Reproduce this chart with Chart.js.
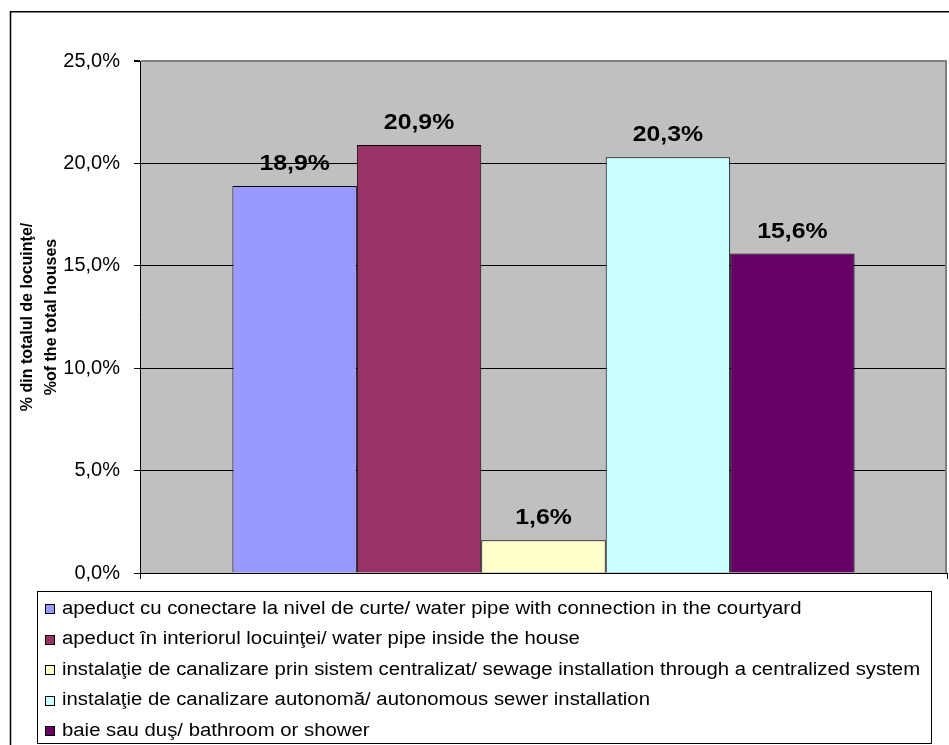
<!DOCTYPE html>
<html>
<head>
<meta charset="utf-8">
<script src="https://cdn.jsdelivr.net/npm/chart.js@4.4.1/dist/chart.umd.min.js"></script>
<style>
  body { margin: 0; background: #fff; overflow: hidden; }
  #wrap { position: relative; width: 949px; height: 745px; }
</style>
</head>
<body>
<div id="wrap"><canvas id="dotareChart" width="949" height="745"></canvas></div>
<script>
// date: ponderea locuinţelor dotate, % din total
var categories = [""];
var seriesLabels = [
  "apeduct cu conectare la nivel de curte/ water pipe with connection in the courtyard",
  "apeduct în interiorul locuinţei/ water pipe inside the house",
  "instalaţie de canalizare prin sistem centralizat/ sewage installation through a centralized system",
  "instalaţie de canalizare autonomă/ autonomous sewer installation",
  "baie sau duş/ bathroom or shower"
];
var seriesValues = [18.9, 20.9, 1.6, 20.3, 15.6];
var seriesColors = ["#9999FF", "#993366", "#FFFFCC", "#CCFFFF", "#660066"];
var tickValues = [0, 5, 10, 15, 20, 25];
var axisTitle = ["% din totalul de locuinţe/", "%of the total houses"];

var FONT = "'Liberation Sans', Arial, sans-serif";
var STRETCH = 1.13; // textul e usor latit pe orizontala

function fmtPct(v) {
  return v.toFixed(1).replace(".", ",") + "%";
}

// scrie text latit pe orizontala, ancorat in (x, y)
function wideText(c, text, x, y, align) {
  var w = c.measureText(text).width * STRETCH;
  var x0 = align === "center" ? x - w / 2 : x;
  c.save();
  c.textAlign = "left";
  c.translate(x0, y);
  c.scale(STRETCH, 1);
  c.fillText(text, 0, 0);
  c.restore();
}

var datasets = seriesLabels.map(function (label, i) {
  return {
    label: label,
    data: [seriesValues[i]],
    backgroundColor: seriesColors[i],
    borderColor: "#000",
    borderWidth: 1,
    categoryPercentage: 0.771,
    barPercentage: 1
  };
});

// fundal, chenar exterior si chenarul zonei de grafic
var framePlugin = {
  id: "frame",
  beforeDraw: function (chart) {
    var c = chart.ctx, a = chart.chartArea;
    c.save();
    c.fillStyle = "#fff";
    c.fillRect(0, 0, chart.width, chart.height);
    c.fillStyle = "#C0C0C0";
    c.fillRect(a.left, a.top, a.right - a.left, a.bottom - a.top);
    c.strokeStyle = "#000";
    c.lineWidth = 1.5;
    c.beginPath();
    c.moveTo(10.5, chart.height);
    c.lineTo(10.5, 11.75);
    c.lineTo(chart.width, 11.75);
    c.stroke();
    c.restore();
  },
  afterDraw: function (chart) {
    var c = chart.ctx, a = chart.chartArea;
    c.save();
    c.strokeStyle = "#808080";
    c.lineWidth = 2;
    c.beginPath();
    c.moveTo(a.right - 1, a.top);
    c.lineTo(a.right - 1, a.bottom);
    c.stroke();
    c.restore();
  }
};

// etichete cu valoarea deasupra fiecarei coloane
var barLabelPlugin = {
  id: "barLabels",
  afterDatasetsDraw: function (chart) {
    var c = chart.ctx;
    c.save();
    c.font = "bold 22px " + FONT;
    c.fillStyle = "#000";
    c.textBaseline = "alphabetic";
    chart.data.datasets.forEach(function (ds, i) {
      var bar = chart.getDatasetMeta(i).data[0];
      wideText(c, fmtPct(ds.data[0]), bar.x, bar.y - 16, "center");
    });
    c.restore();
  }
};

// legenda in caseta, cate un element pe rand
var boxLegendPlugin = {
  id: "boxLegend",
  afterDraw: function (chart) {
    var c = chart.ctx;
    var x = 37, y = 591, w = 894, h = 152, row = 30.5;
    c.save();
    c.fillStyle = "#fff";
    c.fillRect(x, y, w, h);
    c.strokeStyle = "#000";
    c.lineWidth = 1;
    c.strokeRect(x + 0.5, y + 0.5, w, h);
    c.font = "18px " + FONT;
    c.textBaseline = "middle";
    chart.data.datasets.forEach(function (ds, i) {
      var cy = y + 18 + i * row;
      c.fillStyle = ds.backgroundColor;
      c.fillRect(45, Math.round(cy) - 5, 10, 10);
      c.strokeStyle = "#000";
      c.strokeRect(45.5, Math.round(cy) - 4.5, 9, 9);
      c.fillStyle = "#000";
      wideText(c, ds.label, 62, cy, "left");
    });
    c.restore();
  }
};

var ctx = document.getElementById("dotareChart").getContext("2d");
var chart = new Chart(ctx, {
  type: "bar",
  data: {
    labels: categories,
    datasets: datasets
  },
  options: {
    responsive: false,
    animation: false,
    layout: {
      padding: { left: 0, top: 61, right: 2, bottom: 166 }
    },
    plugins: {
      legend: { display: false },
      tooltip: { enabled: false }
    },
    scales: {
      x: {
        grid: {
          offset: true,
          drawOnChartArea: false,
          color: "#000",
          tickLength: 6
        },
        border: { color: "#000", width: 1 },
        ticks: { display: false },
        afterFit: function (scale) { scale.height = 6; }
      },
      y: {
        min: 0,
        max: 25,
        afterBuildTicks: function (scale) {
          scale.ticks = tickValues.map(function (v) { return { value: v }; });
        },
        grid: {
          color: function (c) { return c.tick && c.tick.value === 25 ? "#808080" : "#000"; },
          lineWidth: function (c) { return c.tick && c.tick.value === 25 ? 2 : 1; },
          tickColor: "#000",
          tickLength: 6
        },
        border: { color: "#000", width: 1 },
        ticks: {
          padding: 14,
          color: "#000",
          font: { family: FONT, size: 20 },
          callback: function (v) { return fmtPct(v); }
        },
        title: {
          display: true,
          text: axisTitle,
          color: "#000",
          font: { family: FONT, size: 16, weight: "bold", lineHeight: 1.5 },
          padding: { top: 16, bottom: 0 }
        },
        afterFit: function (scale) { scale.width = 140; }
      }
    }
  },
  plugins: [framePlugin, barLabelPlugin, boxLegendPlugin]
});
</script>
</body>
</html>
